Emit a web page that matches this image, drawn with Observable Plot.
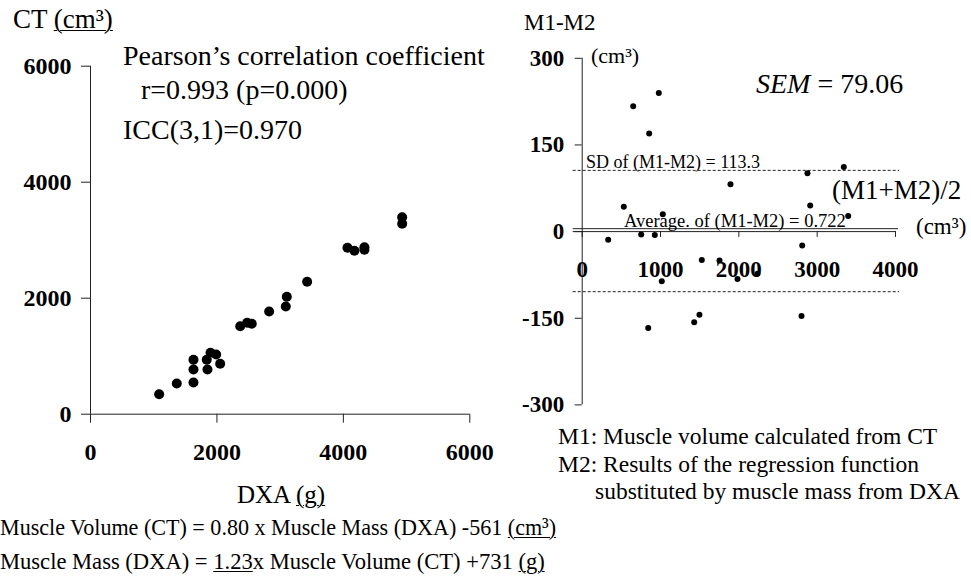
<!DOCTYPE html>
<html><head><meta charset="utf-8">
<script src="https://cdn.jsdelivr.net/npm/d3@7"></script>
<script src="https://cdn.jsdelivr.net/npm/@observablehq/plot@0.6"></script>
<style>
body{margin:0;background:#fff;}
#wrap{position:relative;width:971px;height:577px;overflow:hidden;font-family:"Liberation Serif","Times New Roman",serif;color:#000;}
.t{position:absolute;white-space:nowrap;line-height:1;transform-origin:0 0;}
.u{text-decoration:underline;text-underline-offset:2px;text-decoration-thickness:1px;}
#wrap svg{position:absolute;top:0;}
</style></head>
<body><div id="wrap"></div>
<script>
// ---- Left panel: DXA (g) vs CT (cm3) ----
const dxa = [1086,1365,1629,1629,1629,1839,1850,1898,1988,2051,2368,2478,2551,2826,3089,3105,3427,4065,4175,4333,4333,4930,4930];
const ct  = [345,529,547,771,938,938,771,1059,1029,869,1517,1576,1559,1771,1857,2024,2283,2869,2817,2879,2834,3397,3283];
const leftTicks = [0,2000,4000,6000];

// ---- Right panel: Bland-Altman (M1+M2)/2 vs M1-M2 ----
const meanM = [978,651,855,531,1029,1893,2876,3340,2911,3396,332,753,927,2809,1527,1753,1983,2238,1016,843,1430,1497,2800];
const diffM = [240,217,170,43,30,82,101,112,45,27,-14,-5,-6,-24,-49,-50,-82,-73,-86,-167,-157,-144,-146];
const rightYTicks = [-300,-150,0,150,300];
const rightXTicks = [0,1000,2000,3000,4000];
const sdLines = [106,-104];
const avgDiff = 0.722;

const leftData = dxa.map((d,i)=>({dxa:d, ct:ct[i]}));
const rightData = meanM.map((d,i)=>({mean:d, diff:diffM[i]}));

const FONT = "Liberation Serif, Times New Roman, serif";
const AX = "#222";
const fmt = d => String(d);

const left = Plot.plot({
  width: 500, height: 470,
  marginLeft: 90, marginRight: 30.7, marginTop: 65.7, marginBottom: 56.3,
  x: {domain: [0,6000]}, y: {domain: [0,6000]},
  style: {fontFamily: FONT, color: "black", background: "transparent", overflow: "visible"},
  marks: [
    Plot.ruleX([0], {stroke: AX}),
    Plot.ruleY([0], {stroke: AX}),
    Plot.axisY(leftTicks, {tickSize: 9, tickPadding: 10, tickFormat: fmt, fontSize: 24, fontWeight: "bold", stroke: AX, label: null}),
    Plot.axisX(leftTicks, {tickSize: 9, tickPadding: 20, tickFormat: fmt, fontSize: 24, fontWeight: "bold", stroke: AX, label: null}),
    Plot.dot(leftData, {x: "dxa", y: "ct", r: 5, fill: "black"})
  ]
});
left.style.left = "0px";

const right = Plot.plot({
  width: 471, height: 470,
  marginLeft: 81.7, marginRight: 76, marginTop: 57.8, marginBottom: 65.6,
  x: {domain: [0,4000], axis: null}, y: {domain: [-300,300]},
  style: {fontFamily: FONT, color: "black", background: "transparent", overflow: "visible"},
  marks: [
    Plot.ruleX([0], {stroke: AX}),
    Plot.axisY(rightYTicks, {tickSize: 7, tickPadding: 11, tickFormat: fmt, fontSize: 23, fontWeight: "bold", stroke: AX, label: null}),
    Plot.ruleY(sdLines, {stroke: "#222", strokeDasharray: "3,2", insetLeft: -9, insetRight: -4}),
    Plot.ruleY([0], {stroke: AX, insetLeft: -9, insetRight: -1}),
    Plot.ruleY([avgDiff], {stroke: AX, dy: -2.5, insetLeft: -9, insetRight: -3}),
    Plot.ruleX(rightXTicks, {x: d => d, y1: 0, y2: -10, stroke: AX}),
    Plot.text(rightXTicks, {x: d => d, y: 0, dy: 38, text: fmt, fontSize: 23, fontWeight: "bold"}),
    Plot.dot(rightData, {x: "mean", y: "diff", r: 3, fill: "black"})
  ]
});
right.style.left = "500px";

const wrap = document.getElementById("wrap");
wrap.appendChild(left);
wrap.appendChild(right);

function label(html, x, baseline, size, sx = 1) {
  const d = document.createElement("div");
  d.className = "t";
  d.innerHTML = html;
  d.style.left = x + "px";
  d.style.top = (baseline - 0.8375 * size) + "px";
  d.style.fontSize = size + "px";
  if (sx !== 1) d.style.transform = `scaleX(${sx})`;
  wrap.appendChild(d);
}

label('CT <span class="u">(cm³)</span>', 13, 28.5, 27);
label('Pearson’s correlation coefficient', 123, 65, 28);
label('r=0.993 (p=0.000)', 141, 99, 28);
label('ICC(3,1)=0.970', 123, 139.5, 28);
label('DXA <span class="u">(g)</span>', 237, 503, 25);
label('Muscle Volume (CT) = 0.80 x Muscle Mass (DXA) -561 <span class="u">(cm³)</span>', 0, 535, 24, 0.92);
label('Muscle Mass (DXA) = <span class="u">1.23</span>x Muscle Volume (CT) +731 <span class="u">(g)</span>', 0, 569, 24, 0.94);

label('M1-M2', 524, 30, 23);
label('(cm³)', 591, 63, 22);
label('<i>SEM</i> = 79.06', 756, 93, 28);
label('(M1+M2)/2', 832, 200, 27);
label('(cm³)', 916, 234, 23);
label('SD of (M1-M2) = 113.3', 586, 168, 18);
label('Average. of (M1-M2) = 0.722', 624, 227, 18.5);
label('M1: Muscle volume calculated from CT', 558, 445, 23.5);
label('M2: Results of the regression function', 558, 473, 23.5);
label('substituted by muscle mass from DXA', 595, 500, 23.5);
</script>
</body></html>
